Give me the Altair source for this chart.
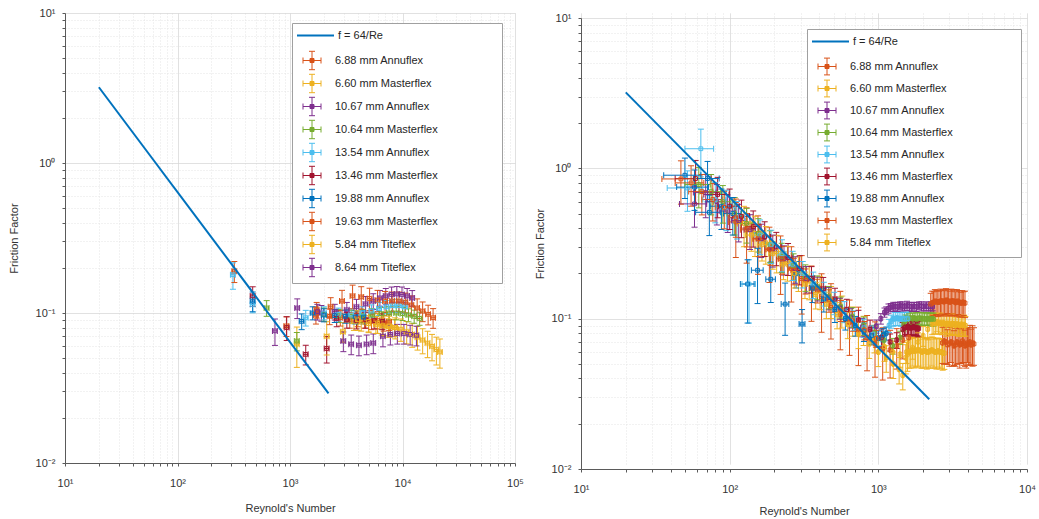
import altair as alt
import pandas as pd

FONT = "Liberation Sans"

# ---------------- series labels / colours ----------------
LABELS_LEFT = ["6.88 mm Annuflex", "6.60 mm Masterflex", "10.67 mm Annuflex", "10.64 mm Masterflex",
               "13.54 mm Annuflex", "13.46 mm Masterflex", "19.88 mm Annuflex", "19.63 mm Masterflex",
               "5.84 mm Titeflex", "8.64 mm Titeflex"]
COLORS_LEFT = ["#D95319", "#EDB120", "#7E2F8E", "#77AC30", "#4DBEEE", "#A2142F", "#0072BD", "#D95319",
               "#EDB120", "#7E2F8E"]
LABELS_RIGHT = LABELS_LEFT[:9]
COLORS_RIGHT = COLORS_LEFT[:9]
LINE_LABEL = "f = 64/Re"
LINE_RE = [20, 2200]

# ---------------- left panel data (Re, f, relative f error) ----------------
L1_RE = [320, 930, 1700, 2250, 2800, 3400, 4000, 4600, 5300, 6000, 6800, 7600]
L1_F = [0.19, 0.082, 0.097, 0.095, 0.093, 0.09, 0.092, 0.09, 0.088, 0.089, 0.086, 0.087]
L1_FE = [0.16, 0.15, 0.13, 0.12, 0.12, 0.12, 0.12, 0.12, 0.12, 0.12, 0.12, 0.12]

L2_RE = [1150, 2120, 2950, 3700, 4300, 5000, 5800, 6600, 7500, 8500]
L2_F = [0.062, 0.07, 0.075, 0.088, 0.087, 0.085, 0.084, 0.082, 0.081, 0.08]
L2_FE = [0.3, 0.25, 0.15, 0.13, 0.13, 0.13, 0.13, 0.13, 0.13, 0.13]

L3_RE = [1900, 2500, 3200, 3900, 4700, 5500, 6300, 7100, 8000, 8900, 9900, 11000, 12200]
L3_F = [0.1, 0.102, 0.105, 0.11, 0.115, 0.12, 0.126, 0.13, 0.133, 0.134, 0.133, 0.13, 0.126]
L3_FE = [0.12, 0.12, 0.12, 0.12, 0.12, 0.12, 0.12, 0.12, 0.12, 0.12, 0.12, 0.12, 0.12]

L4_RE = [620, 1150, 2000, 2700, 3500, 4400, 5400, 6500, 7600, 8800, 10000, 11300, 12700, 14200]
L4_F = [0.108, 0.065, 0.098, 0.096, 0.095, 0.096, 0.097, 0.099, 0.1, 0.1, 0.099, 0.097, 0.095, 0.092]
L4_FE = [0.12, 0.14, 0.1, 0.1, 0.1, 0.1, 0.1, 0.1, 0.1, 0.1, 0.1, 0.1, 0.1, 0.1]

L5_RE = [311, 466, 1380, 2000, 2700, 3500, 4400, 5300, 6200, 7200, 8200, 9300, 10500]
L5_F = [0.18, 0.114, 0.093, 0.1, 0.098, 0.097, 0.1, 0.103, 0.107, 0.11, 0.112, 0.112, 0.11]
L5_FE = [0.2, 0.12, 0.12, 0.1, 0.1, 0.1, 0.1, 0.1, 0.1, 0.1, 0.1, 0.1, 0.1]

L6_RE = [466, 935, 1380, 2120, 2600, 3200, 3900, 4700, 5600, 6600]
L6_F = [0.13, 0.08, 0.053, 0.058, 0.092, 0.09, 0.089, 0.09, 0.089, 0.088]
L6_FE = [0.15, 0.18, 0.15, 0.2, 0.12, 0.12, 0.12, 0.12, 0.12, 0.12]

L7_RE = [466, 1270, 1590, 2000, 2500, 3100, 3800, 4500]
L7_F = [0.12, 0.088, 0.1, 0.097, 0.096, 0.095, 0.094, 0.094]
L7_FE = [0.15, 0.12, 0.1, 0.1, 0.1, 0.1, 0.1, 0.1]

L8_RE = [1725, 2300, 2900, 3600, 4300, 5100, 6000, 7000, 8100, 9300, 10600, 12000, 13500, 15100, 16900, 18700]
L8_F = [0.105, 0.11, 0.12, 0.13, 0.128, 0.125, 0.122, 0.12, 0.12, 0.12, 0.118, 0.113, 0.108, 0.103, 0.098, 0.093]
L8_FE = [0.12, 0.15, 0.18, 0.18, 0.17, 0.17, 0.16, 0.16, 0.15, 0.15, 0.15, 0.15, 0.15, 0.15, 0.15, 0.15]

L9_RE = [4000, 5000, 6000, 6700, 7600, 8600, 9700, 10900, 12200, 13600, 15100, 16700, 18300, 20000, 21500]
L9_F = [0.09, 0.088, 0.086, 0.083, 0.082, 0.08, 0.078, 0.075, 0.072, 0.069, 0.066, 0.063, 0.06, 0.057, 0.055]
L9_FE = [0.15, 0.15, 0.15, 0.15, 0.16, 0.16, 0.17, 0.17, 0.18, 0.18, 0.19, 0.2, 0.2, 0.21, 0.22]

L10_RE = [735, 1160, 1750, 2980, 3500, 4100, 4800, 5500, 6700, 7800, 9000, 10300, 11700, 13300]
L10_F = [0.076, 0.108, 0.102, 0.065, 0.062, 0.061, 0.062, 0.063, 0.07, 0.072, 0.073, 0.073, 0.072, 0.071]
L10_FE = [0.2, 0.15, 0.12, 0.15, 0.15, 0.15, 0.15, 0.15, 0.15, 0.15, 0.15, 0.15, 0.15, 0.15]

LEFT_XE_REL = [0.05, 0.05, 0.05, 0.05, 0.05, 0.05, 0.05, 0.05, 0.05, 0.05]

# ---------------- right panel data (laminar part + transition block) ----------------
R1_RE = ([110, 130, 155, 185, 220, 260, 305, 355, 415, 480, 555, 640, 735, 840, 950, 1070, 1200, 1330, 1460, 1600]
         + [2700, 2770, 2850, 2920, 3000, 3080, 3150, 3230, 3300, 3380, 3450, 3530, 3600, 3680, 3750, 3830, 3900,
            3980, 4050, 4130, 4200, 4300, 4400])
R1_F = ([0.44, 0.39, 0.34, 0.29, 0.25, 0.215, 0.185, 0.16, 0.14, 0.122, 0.107, 0.095, 0.084, 0.075, 0.068, 0.063,
         0.062, 0.066, 0.072, 0.075]
        + [0.069, 0.071, 0.07, 0.067, 0.068, 0.07, 0.069, 0.066, 0.067, 0.07, 0.069, 0.067, 0.068, 0.071, 0.069,
           0.066, 0.067, 0.069, 0.068, 0.07, 0.067, 0.069, 0.068])
R1_FE = ([0.42, 0.4, 0.42, 0.4, 0.42, 0.4, 0.42, 0.4, 0.42, 0.4, 0.42, 0.4, 0.42, 0.4, 0.4, 0.38, 0.35, 0.3, 0.25,
          0.22]
         + [0.27, 0.3, 0.28, 0.26, 0.29, 0.27, 0.3, 0.26, 0.28, 0.29, 0.27, 0.3, 0.26, 0.28, 0.29, 0.27, 0.3, 0.26,
            0.28, 0.29, 0.27, 0.3, 0.28])

R2_RE = ([125, 148, 175, 207, 245, 290, 343, 406, 480, 568, 672, 795, 940, 1100, 1250, 1400, 1550, 1700, 1850, 2000,
          2150]
         + [2300, 2360, 2420, 2480, 2540, 2600, 2670, 2730, 2800, 2870, 2940, 3010, 3080, 3150, 3230, 3300, 3380,
            3460, 3540, 3620, 3700, 3780, 3850])
R2_F = ([0.43, 0.37, 0.32, 0.28, 0.24, 0.205, 0.178, 0.153, 0.132, 0.114, 0.098, 0.085, 0.074, 0.065, 0.06, 0.058,
         0.06, 0.064, 0.07, 0.077, 0.085]
        + [0.092, 0.094, 0.093, 0.095, 0.093, 0.094, 0.092, 0.094, 0.093, 0.091, 0.093, 0.092, 0.091, 0.093, 0.092,
           0.09, 0.092, 0.091, 0.09, 0.092, 0.09, 0.091, 0.09])
R2_FE = ([0.3, 0.3, 0.28, 0.28, 0.26, 0.26, 0.25, 0.25, 0.24, 0.24, 0.22, 0.22, 0.2, 0.2, 0.18, 0.18, 0.16, 0.16,
          0.15, 0.15, 0.15]
         + [0.15, 0.16, 0.15, 0.14, 0.15, 0.16, 0.15, 0.14, 0.15, 0.16, 0.15, 0.14, 0.15, 0.16, 0.15, 0.14, 0.15,
            0.16, 0.15, 0.14, 0.15, 0.16, 0.15])

R3_RE = ([58, 69, 82, 97, 115, 137, 163, 195, 232, 276, 328, 390, 464, 552, 656, 780, 900, 970, 1040, 1100]
         + [1130, 1170, 1210, 1260, 1300, 1350, 1400, 1450, 1500, 1560, 1620, 1680, 1740, 1810, 1880, 1950, 2020,
            2100, 2180, 2250, 2320])
R3_F = ([0.58, 0.69, 0.6, 0.52, 0.45, 0.39, 0.34, 0.29, 0.25, 0.215, 0.185, 0.16, 0.138, 0.118, 0.102, 0.088, 0.08,
         0.089, 0.1, 0.11]
        + [0.113, 0.117, 0.119, 0.12, 0.121, 0.12, 0.122, 0.121, 0.12, 0.122, 0.121, 0.12, 0.121, 0.12, 0.122,
           0.121, 0.12, 0.121, 0.12, 0.121, 0.12])
R3_FE = ([0.3, 0.32, 0.3, 0.28, 0.28, 0.26, 0.25, 0.24, 0.22, 0.2, 0.2, 0.18, 0.17, 0.16, 0.15, 0.14, 0.12, 0.1,
          0.08, 0.07]
         + [0.06, 0.07, 0.06, 0.07, 0.06, 0.07, 0.06, 0.07, 0.06, 0.07, 0.06, 0.07, 0.06, 0.07, 0.06, 0.07, 0.06,
            0.07, 0.06, 0.07, 0.06])

R4_RE = ([62, 75, 90, 108, 130, 156, 187, 224, 269, 323, 388, 465, 558, 670, 800, 940, 1090, 1250, 1400]
         + [1480, 1520, 1560, 1610, 1650, 1700, 1740, 1790, 1840, 1890, 1940, 1990, 2040, 2100, 2150, 2200, 2260,
            2310, 2350])
R4_F = ([0.78, 0.7, 0.6, 0.5, 0.43, 0.37, 0.31, 0.26, 0.225, 0.19, 0.163, 0.14, 0.12, 0.103, 0.09, 0.08, 0.072,
         0.066, 0.075]
        + [0.092, 0.097, 0.1, 0.1, 0.101, 0.1, 0.101, 0.1, 0.1, 0.101, 0.1, 0.1, 0.1, 0.099, 0.1, 0.1, 0.099, 0.1,
           0.099])
R4_FE = ([0.3, 0.3, 0.28, 0.28, 0.26, 0.25, 0.24, 0.22, 0.2, 0.2, 0.18, 0.17, 0.16, 0.15, 0.14, 0.13, 0.12, 0.12, 0.1]
         + [0.1, 0.09, 0.1, 0.09, 0.1, 0.09, 0.1, 0.09, 0.1, 0.09, 0.1, 0.09, 0.1, 0.09, 0.1, 0.09, 0.1, 0.09, 0.1])

R5_RE = ([52, 64, 80, 95, 112, 135, 160, 190, 225, 265, 310, 365, 430, 505, 590, 690, 800, 920, 1050]
         + [1180, 1220, 1260, 1300, 1340, 1380, 1420, 1460, 1500, 1540, 1580])
R5_F = ([0.74, 1.35, 0.62, 0.55, 0.47, 0.17, 0.36, 0.31, 0.27, 0.23, 0.2, 0.17, 0.148, 0.128, 0.112, 0.098, 0.087,
         0.079, 0.075]
        + [0.09, 0.096, 0.1, 0.1, 0.101, 0.1, 0.1, 0.1, 0.099, 0.1, 0.1])
R5_FE = ([0.3, 0.35, 0.3, 0.3, 0.28, 0.45, 0.26, 0.25, 0.24, 0.22, 0.2, 0.2, 0.18, 0.17, 0.16, 0.15, 0.14, 0.13, 0.12]
         + [0.1, 0.1, 0.11, 0.1, 0.11, 0.1, 0.11, 0.1, 0.11, 0.1, 0.11])

R6_RE = ([59, 83, 100, 120, 144, 172, 206, 247, 296, 355, 426, 511, 613, 735, 880, 1050, 1200, 1330]
         + [1460, 1500, 1530, 1570, 1600, 1640, 1670, 1710, 1740, 1780, 1810, 1840, 1870])
R6_F = ([0.855, 0.67, 0.56, 0.48, 0.41, 0.35, 0.3, 0.255, 0.215, 0.185, 0.158, 0.135, 0.115, 0.098, 0.085, 0.075,
         0.07, 0.072]
        + [0.085, 0.087, 0.088, 0.088, 0.088, 0.087, 0.087, 0.088, 0.088, 0.087, 0.087, 0.086, 0.086])
R6_FE = ([0.32, 0.3, 0.3, 0.28, 0.27, 0.26, 0.25, 0.24, 0.22, 0.2, 0.19, 0.18, 0.17, 0.16, 0.15, 0.14, 0.13, 0.12]
         + [0.11, 0.12, 0.11, 0.12, 0.11, 0.12, 0.11, 0.12, 0.11, 0.12, 0.11, 0.12, 0.11])

R7_RE = [50, 58, 71, 73, 88, 105, 132, 154, 189, 236, 280, 307, 360, 430, 510, 600, 700, 800, 900, 1000, 1080, 1130]
R7_F = [0.9, 0.75, 0.855, 0.51, 0.56, 0.5, 0.17, 0.21, 0.183, 0.125, 0.2, 0.092, 0.16, 0.135, 0.115, 0.1, 0.09,
        0.082, 0.077, 0.074, 0.078, 0.08]
R7_FE = [0.3, 0.3, 0.3, 0.3, 0.3, 0.28, 0.45, 0.4, 0.3, 0.38, 0.2, 0.25, 0.2, 0.18, 0.18, 0.16, 0.15, 0.14, 0.13,
         0.12, 0.1, 0.1]

R8_RE = ([47, 55, 65, 77, 92, 110, 131, 157, 188, 225, 270, 324, 388, 466, 560, 672, 806, 968]
         + [2250, 2300, 2350, 2400, 2450, 2510, 2560, 2620, 2670, 2730, 2790, 2850, 2910, 2970, 3040, 3100, 3170,
            3240, 3310, 3380, 3450, 3520, 3600, 3670, 3750, 3830])
R8_F = ([0.85, 0.8, 0.7, 0.62, 0.55, 0.47, 0.4, 0.34, 0.29, 0.25, 0.21, 0.18, 0.155, 0.133, 0.114, 0.097, 0.084,
         0.074]
        + [0.125, 0.127, 0.128, 0.13, 0.13, 0.129, 0.129, 0.131, 0.131, 0.13, 0.13, 0.132, 0.132, 0.13, 0.129,
           0.131, 0.131, 0.13, 0.128, 0.13, 0.13, 0.128, 0.127, 0.128, 0.128, 0.127])
R8_FE = ([0.32, 0.3, 0.3, 0.28, 0.28, 0.26, 0.25, 0.24, 0.22, 0.21, 0.2, 0.19, 0.18, 0.17, 0.16, 0.15, 0.14, 0.13]
         + [0.18, 0.2, 0.18, 0.2, 0.18, 0.2, 0.18, 0.2, 0.18, 0.2, 0.18, 0.2, 0.18, 0.2, 0.18, 0.2, 0.18, 0.2,
            0.18, 0.2, 0.18, 0.2, 0.18, 0.2, 0.18, 0.2])

R9_RE = ([140, 165, 195, 230, 272, 321, 379, 447, 528, 623, 735, 868, 1000, 1130, 1260, 1380, 1460]
         + [1530, 1570, 1610, 1650, 1690, 1740, 1780, 1830, 1870, 1920, 1970, 2020, 2070, 2120, 2180, 2230, 2290,
            2340, 2400, 2460, 2520, 2580, 2650, 2710, 2780])
R9_F = ([0.36, 0.31, 0.27, 0.23, 0.2, 0.17, 0.145, 0.125, 0.107, 0.092, 0.079, 0.068, 0.06, 0.055, 0.05, 0.046,
         0.042]
        + [0.055, 0.058, 0.06, 0.061, 0.062, 0.061, 0.061, 0.062, 0.062, 0.061, 0.06, 0.061, 0.061, 0.06, 0.06,
           0.061, 0.062, 0.061, 0.06, 0.06, 0.061, 0.06, 0.06, 0.059, 0.059])
R9_FE = ([0.22, 0.22, 0.21, 0.21, 0.2, 0.2, 0.2, 0.2, 0.2, 0.2, 0.2, 0.2, 0.2, 0.2, 0.2, 0.2, 0.2]
         + [0.22, 0.23, 0.22, 0.23, 0.22, 0.23, 0.22, 0.23, 0.22, 0.23, 0.22, 0.23, 0.22, 0.23, 0.22, 0.23, 0.22,
            0.23, 0.22, 0.23, 0.22, 0.23, 0.22, 0.23, 0.22])

RIGHT_XE_ABS = [12, 12, 12, 12, 14, 16, 14, 12, 12]

# ---------------- axis tick values ----------------
X_TICKS_LEFT = [k * 10 ** e for e in range(1, 5) for k in range(1, 10)] + [10 ** 5]
X_TICKS_RIGHT = [k * 10 ** e for e in range(1, 4) for k in range(1, 10)] + [10 ** 4]
Y_TICKS = [round(k * 10.0 ** e, 6) for e in range(-2, 1) for k in range(1, 10)] + [10]


def build_table(series, labels, xerr, relative):
    rows = []
    for i, (re_list, f_list, fe_list) in enumerate(series):
        assert len(re_list) == len(f_list) == len(fe_list), labels[i]
        for re_v, f_v, fe_v in zip(re_list, f_list, fe_list):
            dx = re_v * xerr[i] if relative else xerr[i]
            rows.append({"series": labels[i], "Re": re_v, "f": f_v,
                         "flo": f_v * (1 - fe_v), "fhi": f_v * (1 + fe_v),
                         "relo": re_v - dx, "rehi": re_v + dx})
    return pd.DataFrame(rows)


left_df = build_table([(L1_RE, L1_F, L1_FE), (L2_RE, L2_F, L2_FE), (L3_RE, L3_F, L3_FE), (L4_RE, L4_F, L4_FE),
                       (L5_RE, L5_F, L5_FE), (L6_RE, L6_F, L6_FE), (L7_RE, L7_F, L7_FE), (L8_RE, L8_F, L8_FE),
                       (L9_RE, L9_F, L9_FE), (L10_RE, L10_F, L10_FE)], LABELS_LEFT, LEFT_XE_REL, True)
right_df = build_table([(R1_RE, R1_F, R1_FE), (R2_RE, R2_F, R2_FE), (R3_RE, R3_F, R3_FE), (R4_RE, R4_F, R4_FE),
                        (R5_RE, R5_F, R5_FE), (R6_RE, R6_F, R6_FE), (R7_RE, R7_F, R7_FE), (R8_RE, R8_F, R8_FE),
                        (R9_RE, R9_F, R9_FE)], LABELS_RIGHT, RIGHT_XE_ABS, False)
line_df = pd.DataFrame({"Re": LINE_RE, "f": [64.0 / r for r in LINE_RE], "name": [LINE_LABEL] * len(LINE_RE)})

MAJOR = "abs(log(datum.value)/LN10 - round(log(datum.value)/LN10)) < 1e-6"
SUP = {-2: "⁻²", -1: "⁻¹", 0: "⁰", 1: "¹", 2: "²", 3: "³", 4: "⁴", 5: "⁵"}


def label_expr(exps):
    e_expr = "round(log(datum.value)/LN10)"
    inner = "''"
    for e in exps[::-1]:
        inner = f"({e_expr} == {e} ? '10{SUP[e]}' : {inner})"
    return f"({MAJOR}) ? {inner} : ''"


def make_axis(values, exps, title, title_pad, label_pad):
    return alt.Axis(values=values, labelExpr=label_expr(exps), title=title, grid=True,
                    gridColor={"condition": {"test": MAJOR, "value": "#d6d6d6"}, "value": "#e4e4e4"},
                    gridDash={"condition": {"test": MAJOR, "value": [1, 0]}, "value": [1, 2]},
                    gridWidth=1, domainColor="#5a5a5a", domainWidth=1, tickColor="#5a5a5a", tickSize=3,
                    labelFont=FONT, labelFontSize=11, labelColor="#333333", labelPadding=label_pad,
                    labelFlush=False, labelOverlap=False, labelBound=False,
                    titleFont=FONT, titleFontSize=11, titleFontWeight="normal", titleColor="#333333",
                    titlePadding=title_pad)


def eb_path(v, far):
    # error-bar glyph (horizontal + vertical bar with caps and a square marker); the trailing
    # move-to only widens the legend frame to the reference width
    return (f"M-1.125,0H1.125M-1.125,-0.375V0.375M1.125,-0.375V0.375M0,-{v}V{v}"
            f"M-0.375,-{v}H0.375M-0.375,{v}H0.375M-0.25,-0.25H0.25V0.25H-0.25Z"
            f"M{far},0")


def panel(df, labels, colors, xdomain, xticks, xexps, width, height, y_top, leg_x, leg_y, far, icon_v,
          row_pad, ytitle_pad, xtitle_pad):
    xs = alt.Scale(type="log", domain=xdomain, nice=False)
    ys = alt.Scale(type="log", domain=[0.01, 10], nice=False, range=[height, y_top])
    xa = make_axis(xticks, xexps, "Reynold's Number", xtitle_pad, 11)
    ya = make_axis(Y_TICKS, [-2, -1, 0, 1], "Friction Factor", ytitle_pad, 7)
    color = alt.Color("series:N", scale=alt.Scale(domain=labels, range=colors),
                      legend=alt.Legend(orient="none", legendX=leg_x, legendY=leg_y,
                                        title=" ", titleFontSize=11, titlePadding=14, padding=4,
                                        strokeColor="#a0a0a0", fillColor="white", symbolType=eb_path(icon_v, far),
                                        symbolSize=256, symbolStrokeWidth=1, symbolOffset=7.5, labelOffset=14.5,
                                        rowPadding=row_pad, labelFont=FONT, labelFontSize=11,
                                        labelColor="#262626", labelLimit=300, zindex=0))
    X = lambda fld: alt.X(f"{fld}:Q", scale=xs, axis=xa, title="Reynold's Number")
    Y = lambda fld: alt.Y(f"{fld}:Q", scale=ys, axis=ya, title="Friction Factor")
    base = alt.Chart(df)
    vbar = base.mark_rule(strokeWidth=1).encode(x=X("Re"), y=Y("flo"), y2="fhi:Q", color=color)
    hbar = base.mark_rule(strokeWidth=1).encode(x=X("relo"), x2="rehi:Q", y=Y("f"), color=color)
    cap_hi = base.mark_tick(orient="horizontal", size=6, thickness=1, opacity=1).encode(
        x=X("Re"), y=Y("fhi"), color=color)
    cap_lo = base.mark_tick(orient="horizontal", size=6, thickness=1, opacity=1).encode(
        x=X("Re"), y=Y("flo"), color=color)
    cap_l = base.mark_tick(orient="vertical", size=6, thickness=1, opacity=1).encode(
        x=X("relo"), y=Y("f"), color=color)
    cap_r = base.mark_tick(orient="vertical", size=6, thickness=1, opacity=1).encode(
        x=X("rehi"), y=Y("f"), color=color)
    pts = base.mark_point(shape="square", size=14, filled=False, strokeWidth=1, opacity=1).encode(
        x=X("Re"), y=Y("f"), color=color)
    line = alt.Chart(line_df).mark_line(strokeWidth=2).encode(
        x=X("Re"), y=Y("f"),
        stroke=alt.Stroke("name:N", scale=alt.Scale(range=["#0072BD"]),
                          legend=alt.Legend(orient="none", legendX=leg_x + 4, legendY=leg_y - 7, title=None,
                                            symbolType="stroke", symbolSize=1369, symbolStrokeWidth=2,
                                            labelOffset=3, padding=0, labelFont=FONT, labelFontSize=11,
                                            labelColor="#262626", zindex=1)))
    return alt.layer(vbar, hbar, cap_hi, cap_lo, cap_l, cap_r, pts, line).properties(width=width, height=height)


left = panel(left_df, LABELS_LEFT, COLORS_LEFT, [10, 1e5], X_TICKS_LEFT, [1, 2, 3, 4, 5], 450, 450, 0,
             227, 10, 22.9, 1.15, 0, 16, 14)
right = panel(right_df, LABELS_RIGHT, COLORS_RIGHT, [10, 1e4], X_TICKS_RIGHT, [1, 2, 3, 4], 446, 456, 5,
              226, 16, 23.4, 1.05, 1, 6, 11)

chart = alt.hconcat(left, right, spacing=9).resolve_scale(
    color="independent", stroke="independent", x="independent", y="independent"
).properties(padding={"left": 7, "top": 6, "right": 0, "bottom": 0}, background="white").configure_view(
    stroke="transparent")

chart.save("out.html", embed_options={"renderer": "svg", "actions": False})
